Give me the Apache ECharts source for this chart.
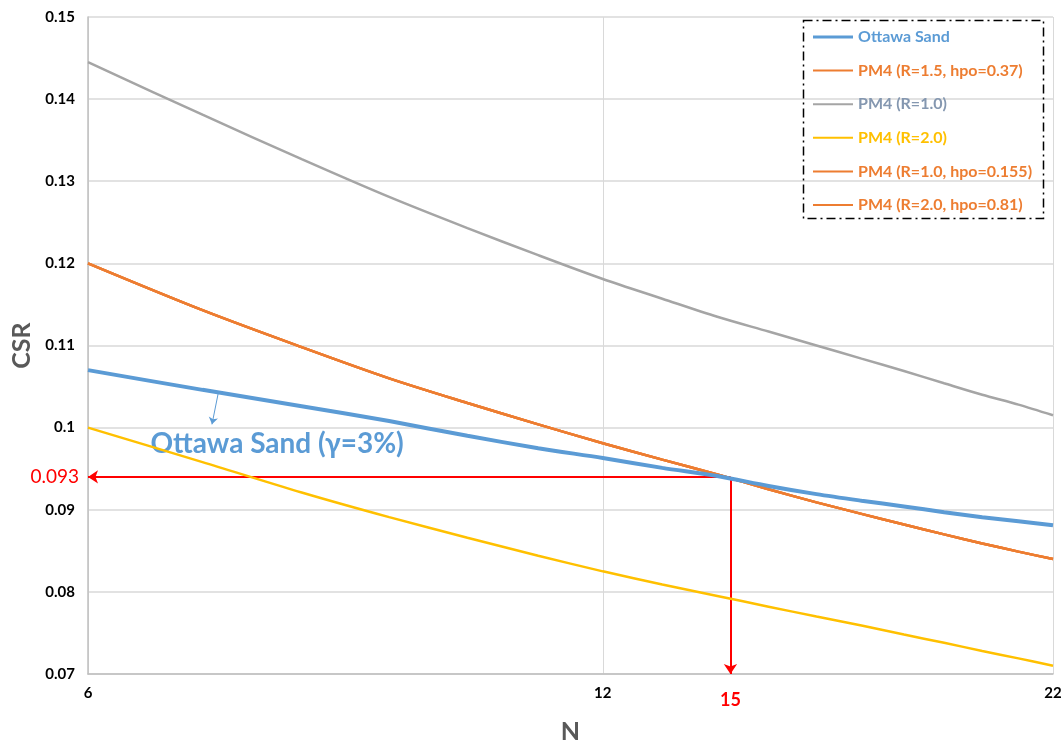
<!DOCTYPE html>
<html>
<head>
<meta charset="utf-8">
<script src="https://cdn.jsdelivr.net/npm/echarts@6/dist/echarts.min.js"></script>
<style>
html,body{margin:0;padding:0;background:#fff;}
#chart{width:1061px;height:740px;}
</style>
</head>
<body>
<div id="chart"></div>
<script>
// ---- data ----
var N = [6, 7, 8, 9, 10, 11, 12, 13, 14, 15, 16, 17, 18, 19, 20, 21, 22];
var ottawaSand = [0.1070, 0.1046, 0.1026, 0.1008, 0.0990, 0.0975, 0.0963, 0.0951, 0.0941, 0.0929, 0.0919, 0.0911, 0.0904, 0.0897, 0.0891, 0.0886, 0.0881];
var pm4R15 = [0.1200, 0.1143, 0.1098, 0.1060, 0.1030, 0.1004, 0.0981, 0.0961, 0.0943, 0.0925, 0.0909, 0.0895, 0.0882, 0.0870, 0.0859, 0.0849, 0.0840];
var pm4R10 = [0.1445, 0.1381, 0.1327, 0.1281, 0.1243, 0.1210, 0.1181, 0.1157, 0.1135, 0.1117, 0.1100, 0.1084, 0.1069, 0.1054, 0.1040, 0.1028, 0.1015];
var pm4R20 = [0.1000, 0.0958, 0.0921, 0.0891, 0.0866, 0.0844, 0.0825, 0.0809, 0.0795, 0.0782, 0.0770, 0.0759, 0.0748, 0.0738, 0.0728, 0.0719, 0.0710];
// calibrated curves lie under the R=1.5 curve in the picture
var pm4R10h = pm4R15.slice();
var pm4R20h = pm4R15.slice();
var seriesNames = ['Ottawa Sand', 'PM4 (R=1.5, hpo=0.37)', 'PM4 (R=1.0)', 'PM4 (R=2.0)', 'PM4 (R=1.0, hpo=0.155)', 'PM4 (R=2.0, hpo=0.81)'];
var xTicks = [6, 12, 22];
var yTicks = [0.07, 0.15, 0.01];
// annotation: intersection point and its labels
var crossN = 14.25, crossCSR = 0.0940;
var crossNLabel = '15', crossCSRLabel = '0.093';
var sandLabel = 'Ottawa Sand (γ=3%)';
var sandLabelPos = [7.74, 0.0980];
var sandArrow = [[7.15, 0.1042], [7.09, 0.1004]];

function pairs(vals) { return N.map(function (n, i) { return [n, vals[i]]; }); }

var colors = ['#5B9BD5', '#ED7D31', '#A5A5A5', '#FFC000', '#ED7D31', '#ED7D31'];
var textColors = ['#5B9BD5', '#ED7D31', '#8497B0', '#FFC000', '#ED7D31', '#ED7D31'];
var widths = [4, 2.5, 2.5, 2.5, 2.5, 2.5];
var datas = [ottawaSand, pm4R15, pm4R10, pm4R20, pm4R10h, pm4R20h];
var zs = [10, 6, 5, 5, 4, 4];

var FONT = 'Lato, "Liberation Sans", sans-serif';

var series = seriesNames.map(function (name, i) {
  return {
    name: name, type: 'line', data: pairs(datas[i]), smooth: 0.3,
    showSymbol: false, symbol: 'none', z: zs[i],
    lineStyle: { color: colors[i], width: widths[i] },
    itemStyle: { color: colors[i] }
  };
});

// annotations on the first series
series[0].markLine = {
  silent: true, animation: false, symbol: ['none', 'arrow'], symbolSize: 10,
  data: [
    [{ coord: [crossN, crossCSR], lineStyle: { color: '#FF0000', width: 2, type: 'solid' },
       label: { show: true, position: 'end', formatter: crossCSRLabel, color: '#FF0000', fontSize: 19, fontFamily: FONT, distance: 9 } },
     { coord: [xTicks[0], crossCSR] }],
    [{ coord: [crossN, crossCSR], lineStyle: { color: '#FF0000', width: 2, type: 'solid' },
       label: { show: true, position: 'end', formatter: crossNLabel, color: '#FF0000', fontSize: 18, fontWeight: 'bold', fontFamily: FONT, distance: 17 } },
     { coord: [crossN, yTicks[0]] }],
    [{ coord: sandArrow[0], symbolSize: 7, lineStyle: { color: '#5B9BD5', width: 1, type: 'solid' }, label: { show: false } },
     { coord: sandArrow[1], symbolSize: 7 }]
  ]
};
series[0].markPoint = {
  silent: true, animation: false, symbol: 'circle', symbolSize: 1,
  itemStyle: { color: 'rgba(0,0,0,0)' },
  data: [{ coord: sandLabelPos, label: { show: true, position: 'inside', formatter: sandLabel, color: '#5B9BD5', fontSize: 28, fontWeight: 'bold', fontFamily: FONT } }]
};

var thinIcon = 'path://M0,6 L40,6 L40,8 L0,8 Z';
var thickIcon = 'path://M0,5.5 L40,5.5 L40,8.5 L0,8.5 Z';

var chart = echarts.init(document.getElementById('chart'), null, { renderer: 'canvas' });
chart.setOption({
  animation: false,
  backgroundColor: '#ffffff',
  grid: { left: 88, right: 8, top: 17, bottom: 66, containLabel: false, outerBoundsMode: 'none' },
  legend: {
    orient: 'vertical', left: 813, top: 29, padding: 0,
    itemWidth: 40, itemHeight: 14, itemGap: 17.6,
    data: seriesNames.map(function (n, i) {
      return { name: n, icon: i === 0 ? thickIcon : thinIcon,
        textStyle: { color: textColors[i], fontWeight: 'bold', fontSize: 16, fontFamily: FONT } };
    }),
    selectedMode: false
  },
  graphic: [{
    type: 'rect', silent: true, z: 100,
    shape: { x: 803.5, y: 20.5, width: 240, height: 198 },
    style: { fill: 'none', stroke: '#000', lineWidth: 1.5, lineDash: [9, 4, 2, 4] }
  }],
  xAxis: {
    type: 'log', logBase: 2, min: xTicks[0], max: xTicks[xTicks.length - 1],
    name: 'N', nameLocation: 'middle', nameGap: 45,
    nameTextStyle: { fontSize: 25, fontWeight: 'bold', color: '#595959', fontFamily: FONT },
    axisLine: { show: true, lineStyle: { color: '#BFBFBF', width: 1.5 } },
    axisTick: { show: false, customValues: xTicks },
    axisLabel: { customValues: xTicks, color: '#000', fontWeight: 'bold', fontSize: 15, fontFamily: FONT, margin: 12, showMaxLabel: true, showMinLabel: true },
    splitLine: { show: true, lineStyle: { color: '#D9D9D9', width: 1 } }
  },
  yAxis: {
    type: 'value', min: yTicks[0], max: yTicks[1], interval: yTicks[2],
    name: 'CSR', nameLocation: 'middle', nameGap: 50, nameRotate: 90,
    nameTextStyle: { fontSize: 25, fontWeight: 'bold', color: '#595959', fontFamily: FONT },
    axisLine: { show: true, lineStyle: { color: '#BFBFBF', width: 1.5 } },
    axisTick: { show: false },
    axisLabel: { color: '#000', fontWeight: 'bold', fontSize: 15, fontFamily: FONT, margin: 13 },
    splitLine: { show: true, lineStyle: { color: '#D9D9D9', width: 1.5 } }
  },
  series: series
});
</script>
</body>
</html>
